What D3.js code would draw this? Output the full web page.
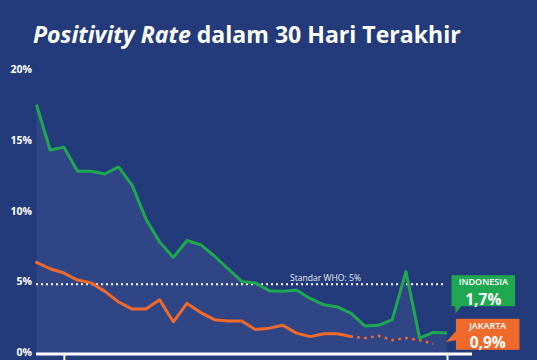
<!DOCTYPE html>
<html>
<head>
<meta charset="utf-8">
<script src="https://cdn.jsdelivr.net/npm/d3@7"></script>
<style>
  html, body { margin: 0; padding: 0; background: #233b7a; }
  svg { display: block; }
  text { font-family: "Open Sans", "DejaVu Sans", sans-serif; }
</style>
</head>
<body>
<svg id="chart" width="537" height="360"></svg>
<script>
// ---- data ----
const title1 = "Positivity Rate";
const title2 = " dalam 30 Hari Terakhir";
const days = [1,2,3,4,5,6,7,8,9,10,11,12,13,14,15,16,17,18,19,20,21,22,23,24,25,26,27,28,29,30,31];
const indonesia = [17.7, 14.5, 14.7, 13.0, 13.0, 12.8, 13.3, 12.0, 9.6, 8.0, 6.9, 8.1, 7.8, 7.0, 6.1, 5.2, 5.1, 4.55, 4.5, 4.6, 4.0, 3.55, 3.4, 2.95, 2.05, 2.1, 2.5, 5.9, 1.2, 1.6, 1.55];
const jakarta = [6.55, 6.1, 5.8, 5.3, 5.1, 4.5, 3.75, 3.25, 3.25, 3.9, 2.35, 3.65, 3.0, 2.5, 2.4, 2.4, 1.8, 1.9, 2.1, 1.55, 1.3, 1.5, 1.5, 1.3, 1.2, 1.35, 1.05, 1.2, 1.05, 0.8];
const jakartaSolidCount = 24; // later points are provisional (dotted)
const yTicks = [0, 5, 10, 15, 20];
const xTickDays = [3, 31];
const whoStandard = 5;
const whoLabel = "Standar WHO: 5%";
const seriesLabels = ["INDONESIA", "JAKARTA"];
const seriesValueLabels = ["1,7%", "0,9%"];

// ---- chart ----
const svg = d3.select("#chart");
const C = { bg: "#233b7a", fill: "#2f4585", green: "#1fa84f", orange: "#f06a2c", white: "#ffffff" };

svg.append("rect").attr("width", 537).attr("height", 360).attr("fill", C.bg);

const x = d3.scaleLinear().domain([1, 31]).range([36.5, 447]);
const y = d3.scaleLinear().domain([0, 20]).range([355, 72.2]);

// title
const t = svg.append("text").attr("x", 33).attr("y", 43)
  .attr("fill", C.white).attr("font-weight", 700).attr("font-size", 24);
t.append("tspan").attr("font-style", "italic").text(title1);
t.append("tspan").text(title2);
const tw = t.node().getComputedTextLength();
t.attr("font-size", 24 * 428 / tw);

// area under Indonesia
const area = d3.area().x((d, i) => x(days[i])).y0(y(0)).y1(d => y(d));
svg.append("path").datum(indonesia).attr("d", area).attr("fill", C.fill);

// y axis labels
const yAxis = d3.axisLeft(y).tickValues(yTicks).tickSize(0).tickPadding(0)
  .tickFormat(d => d + "%");
const gy = svg.append("g").attr("transform", "translate(32,0)").call(yAxis);
gy.select(".domain").remove();
gy.selectAll("text").attr("fill", C.white).attr("font-size", 10.5).attr("font-weight", 700)
  .attr("font-family", "\"Open Sans\", sans-serif").attr("dy", "0.3em");
gy.selectAll(".tick").attr("transform", d => `translate(0,${y(d) - 2})`);

// WHO line
svg.append("line").attr("x1", 36).attr("x2", 446).attr("y1", y(whoStandard)).attr("y2", y(whoStandard))
  .attr("stroke", C.white).attr("stroke-width", 2).attr("stroke-dasharray", "2,3");
svg.append("text").attr("x", 325.5).attr("y", y(whoStandard) - 3).attr("text-anchor", "middle")
  .attr("fill", "#e6e9f2").attr("font-size", 8.6).attr("font-weight", 400).text(whoLabel);

// Jakarta line
const line = d3.line().x(d => x(d.day)).y(d => y(d.v));
const jk = jakarta.map((v, i) => ({ day: days[i], v }));
svg.append("path").datum(jk.slice(0, jakartaSolidCount)).attr("d", line)
  .attr("fill", "none").attr("stroke", C.orange).attr("stroke-width", 3)
  .attr("stroke-linejoin", "round").attr("stroke-linecap", "round");
svg.append("path").datum(jk.slice(jakartaSolidCount - 1)).attr("d", line)
  .attr("fill", "none").attr("stroke", C.orange).attr("stroke-width", 2.6)
  .attr("stroke-dasharray", "2.6,4.4").attr("stroke-dashoffset", -6);

// Indonesia line
const id = indonesia.map((v, i) => ({ day: days[i], v }));
svg.append("path").datum(id).attr("d", line)
  .attr("fill", "none").attr("stroke", C.green).attr("stroke-width", 3)
  .attr("stroke-linejoin", "round");

// x axis
svg.append("line").attr("x1", 36).attr("x2", 472).attr("y1", 354).attr("y2", 354)
  .attr("stroke", C.white).attr("stroke-width", 3);
const xAxis = d3.axisBottom(x).tickValues(xTickDays).tickSize(8).tickFormat("");
const gx = svg.append("g").attr("transform", "translate(0,354)").call(xAxis);
gx.select(".domain").remove();
gx.selectAll(".tick line").attr("stroke", C.white).attr("stroke-width", 2);

// callouts
function callout(cx, top, w, h, color, ptr, label, value) {
  const g = svg.append("g");
  g.append("rect").attr("x", cx - w / 2).attr("y", top).attr("width", w).attr("height", h).attr("fill", color);
  g.append("path").attr("d", ptr).attr("fill", color);
  g.append("text").attr("x", cx).attr("y", top + 10).attr("text-anchor", "middle")
    .attr("fill", C.white).attr("font-size", 9).attr("font-weight", 600).text(label);
  g.append("text").attr("x", cx).attr("y", top + 29.3).attr("text-anchor", "middle")
    .attr("fill", C.white).attr("font-size", 15.5).attr("font-weight", 700).text(value);
}
callout(483.3, 275.2, 63.5, 31, C.green, "M455,305 L462,305 L455.5,313.5 Z", seriesLabels[0], seriesValueLabels[0]);
callout(487.7, 318.8, 63.5, 31, C.orange, "M457,330 L457,340 L446,342 Z", seriesLabels[1], seriesValueLabels[1]);
</script>
</body>
</html>
